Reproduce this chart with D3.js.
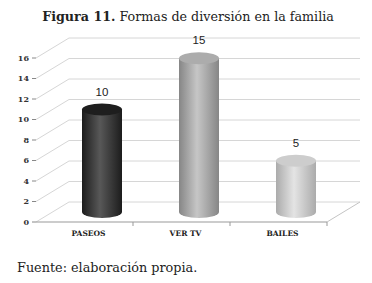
<!DOCTYPE html>
<html>
<head>
<meta charset="utf-8">
<script src="https://cdn.jsdelivr.net/npm/d3@7"></script>
<style>
  body { margin: 0; background: #fff; }
  svg { display: block; }
</style>
</head>
<body>
<div id="chart"></div>
<script>
// data
const categories = ["PASEOS", "VER TV", "BAILES"];
const values = [10, 15, 5];
const yTicks = [0, 2, 4, 6, 8, 10, 12, 14, 16];
const title = ["Figura 11.", " Formas de diversión en la familia"];
const source = "Fuente: elaboración propia.";

const width = 372, height = 283;
const depth = { dx: 33, dy: -20 };
const barStyles = [
  { edge: "#1c1c1c", mid: "#585858", top: "#1e1e1e" },
  { edge: "#868686", mid: "#c6c6c6", top: "#acacac" },
  { edge: "#ababab", mid: "#e4e4e4", top: "#cdcdcd" }
];

const svg = d3.select("#chart")
  .append("svg")
    .attr("width", width)
    .attr("height", height);

// scales
const xScale = d3.scaleBand()
  .domain(categories)
  .range([36, 327]);
const yScale = d3.scaleLinear()
  .domain([0, 16])
  .range([222, 58]);

// title
const titleText = svg.append("text")
  .attr("x", width / 2 + 2)
  .attr("y", 21)
  .attr("text-anchor", "middle")
  .style("font-family", "'DejaVu Serif', serif")
  .style("font-size", "12.7px")
  .attr("fill", "#222");
titleText.append("tspan").text(title[0]).style("font-weight", "bold");
titleText.append("tspan").text(title[1]);

// back wall + left wall gridlines
const grid = svg.append("g").attr("stroke", "#d6d6d6").attr("fill", "none");
const x0 = xScale.range()[0], x1 = xScale.range()[1];
yTicks.forEach(t => {
  const yf = yScale(t);
  grid.append("line")
    .attr("x1", x0).attr("y1", yf)
    .attr("x2", x0 + depth.dx).attr("y2", yf + depth.dy);
  grid.append("line")
    .attr("x1", x0 + depth.dx).attr("y1", yf + depth.dy)
    .attr("x2", x1 + depth.dx).attr("y2", yf + depth.dy);
});
// floor right edge
grid.append("line")
  .attr("x1", x1).attr("y1", yScale(0))
  .attr("x2", x1 + depth.dx).attr("y2", yScale(0) + depth.dy)
  .attr("stroke", "#c4c4c4");

// y axis tick labels
const yAxis = svg.append("g");
yAxis.selectAll("line")
  .data(yTicks)
  .join("line")
    .attr("x1", x0 - 4).attr("x2", x0)
    .attr("y1", d => yScale(d)).attr("y2", d => yScale(d))
    .attr("stroke", "#888");
yAxis.selectAll("text")
  .data(yTicks)
  .join("text")
    .attr("x", x0 - 7)
    .attr("y", d => yScale(d))
    .attr("dy", "0.35em")
    .attr("text-anchor", "end")
    .style("font-family", "'DejaVu Serif', serif")
    .style("font-size", "8px")
    .style("font-weight", "bold")
    .attr("fill", "#333")
    .text(d => d);

// x axis
const xAxis = svg.append("g");
xAxis.append("line")
  .attr("x1", x0).attr("x2", x1)
  .attr("y1", yScale(0)).attr("y2", yScale(0))
  .attr("stroke", "#999");
xAxis.selectAll(".tick")
  .data(categories)
  .join("line")
    .attr("x1", d => xScale(d) + xScale.bandwidth())
    .attr("x2", d => xScale(d) + xScale.bandwidth())
    .attr("y1", yScale(0)).attr("y2", yScale(0) + 4)
    .attr("stroke", "#999");
xAxis.selectAll("text")
  .data(categories)
  .join("text")
    .attr("x", d => xScale(d) + xScale.bandwidth() / 2 + 4)
    .attr("y", yScale(0) + 14)
    .attr("text-anchor", "middle")
    .style("font-family", "'DejaVu Serif', serif")
    .style("font-size", "7.5px")
    .style("font-weight", "bold")
    .attr("fill", "#222")
    .text(d => d);

// gradients
const defs = svg.append("defs");
barStyles.forEach((s, i) => {
  const g = defs.append("linearGradient")
    .attr("id", "cyl" + i)
    .attr("x1", 0).attr("x2", 1).attr("y1", 0).attr("y2", 0);
  g.append("stop").attr("offset", "0%").attr("stop-color", s.edge);
  g.append("stop").attr("offset", "45%").attr("stop-color", s.mid);
  g.append("stop").attr("offset", "100%").attr("stop-color", s.edge);
});

// cylinders
const rx = 20, ry = 6;
const bars = svg.append("g")
  .selectAll("g")
  .data(categories.map((c, i) => ({ c, v: values[i], i })))
  .join("g");

const cx = d => xScale(d.c) + xScale.bandwidth() / 2 + depth.dx / 2 + 1;
const yTop = d => yScale(d.v) + depth.dy / 2;
const yBot = yScale(0) + depth.dy / 2;

bars.append("path")
  .attr("d", d => `M${cx(d) - rx},${yTop(d)} L${cx(d) - rx},${yBot}
    A${rx},${ry} 0 0 0 ${cx(d) + rx},${yBot}
    L${cx(d) + rx},${yTop(d)} Z`)
  .attr("fill", d => `url(#cyl${d.i})`);

bars.append("ellipse")
  .attr("cx", cx)
  .attr("cy", yTop)
  .attr("rx", rx)
  .attr("ry", ry)
  .attr("fill", d => barStyles[d.i].top);

bars.append("text")
  .attr("x", cx)
  .attr("y", d => yTop(d) - 14)
  .attr("text-anchor", "middle")
  .style("font-family", "'Liberation Sans', Arial, sans-serif")
  .style("font-size", "11.5px")
  .attr("fill", "#222")
  .text(d => d.v);

// source
svg.append("text")
  .attr("x", 17)
  .attr("y", 272)
  .style("font-family", "'DejaVu Serif', serif")
  .style("font-size", "12.8px")
  .attr("fill", "#222")
  .text(source);
</script>
</body>
</html>
